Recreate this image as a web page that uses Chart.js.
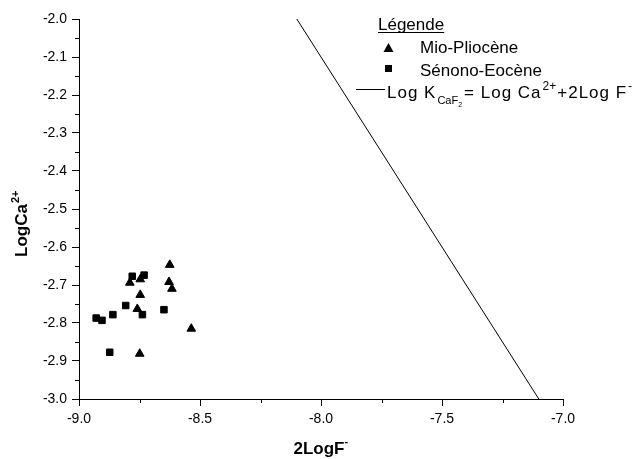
<!DOCTYPE html>
<html>
<head>
<meta charset="utf-8">
<script src="https://cdn.jsdelivr.net/npm/chart.js@4"></script>
<style>
html,body{margin:0;padding:0;background:#fff;}
#c{display:block;}
</style>
</head>
<body>
<canvas id="c" width="642" height="459"></canvas>
<script>
// ---- data ----
const mioX = [-8.625, -8.628, -8.616, -8.790, -8.747, -8.747, -8.759, -8.536, -8.749];
const mioY = [-2.647, -2.692, -2.710, -2.694, -2.685, -2.726, -2.763, -2.815, -2.881];
const senX = [-8.780, -8.731, -8.807, -8.738, -8.649, -8.860, -8.929, -8.905, -8.873];
const senY = [-2.677, -2.674, -2.754, -2.778, -2.765, -2.778, -2.787, -2.793, -2.877];
const lineX = [-8.1, -7.1];
const lineY = [-2.0, -3.0];
const xTickStep = 0.5, yTickStep = 0.1;
const xMinor = [-8.75, -8.25, -7.75, -7.25];
const yMinor = [-2.95, -2.85, -2.75, -2.65, -2.55, -2.45, -2.35, -2.25, -2.15, -2.05];
const seriesNames = ['Mio-Pliocène', 'Sénono-Eocène'];
const legendTitle = 'Légende';

const FF = '"Liberation Sans", Arial, sans-serif';
const pts = (xs, ys) => xs.map((x, i) => ({x, y: ys[i]}));

const overlay = {
  id: 'overlay',
  afterDraw(chart) {
    const ctx = chart.ctx;
    const xs = chart.scales.x, ys = chart.scales.y;
    const ca = chart.chartArea;
    ctx.save();
    ctx.strokeStyle = '#000';
    ctx.fillStyle = '#000';
    ctx.lineWidth = 1;
    // minor ticks
    ctx.beginPath();
    yMinor.forEach(v => {
      const p = Math.round(ys.getPixelForValue(v)) + 0.5;
      ctx.moveTo(ca.left - 4, p); ctx.lineTo(ca.left, p);
    });
    xMinor.forEach(v => {
      const p = Math.round(xs.getPixelForValue(v)) + 0.5;
      ctx.moveTo(p, ca.bottom); ctx.lineTo(p, ca.bottom + 4);
    });
    ctx.stroke();

    // axis titles
    ctx.textBaseline = 'alphabetic';
    ctx.textAlign = 'left';
    ctx.font = 'bold 17px ' + FF;
    const xt = '2LogF';
    const xw = ctx.measureText(xt).width;
    const xStart = (ca.left + ca.right) / 2 - (xw + 4) / 2;
    ctx.fillText(xt, xStart, 454);
    ctx.font = 'bold 11px ' + FF;
    ctx.fillText('-', xStart + xw, 445);

    ctx.save();
    ctx.translate(27, 257);
    ctx.rotate(-Math.PI / 2);
    ctx.font = 'bold 17px ' + FF;
    const yt = 'LogCa';
    const yw = ctx.measureText(yt).width;
    ctx.fillText(yt, 0, 0);
    ctx.font = 'bold 11px ' + FF;
    ctx.fillText('2+', yw + 1, -8);
    ctx.restore();

    // legend
    ctx.font = '17px ' + FF;
    ctx.fillText(legendTitle, 378, 30);
    const lw = ctx.measureText(legendTitle).width;
    ctx.beginPath();
    ctx.moveTo(378, 32.5); ctx.lineTo(378 + lw, 32.5);
    ctx.stroke();

    // triangle symbol
    ctx.beginPath();
    ctx.moveTo(388.5, 43); ctx.lineTo(393.5, 52); ctx.lineTo(383.5, 52); ctx.closePath();
    ctx.fill();
    ctx.fillText(seriesNames[0], 420, 53);
    // square symbol
    ctx.fillRect(385, 65, 7, 7);
    ctx.fillText(seriesNames[1], 420, 76);
    // line symbol
    ctx.beginPath();
    ctx.moveTo(356, 89.5); ctx.lineTo(385, 89.5);
    ctx.stroke();
    const segs = [
      {t: 'Log K', f: 17, dy: 0, ls: 1, gap: 1},
      {t: 'CaF', f: 11, dy: 6, ls: 0, gap: 0},
      {t: '2', f: 7, dy: 9, ls: 0, gap: 2},
      {t: '= Log Ca', f: 17, dy: 0, ls: 1, gap: 1},
      {t: '2+', f: 12, dy: -8, ls: 0, gap: 1},
      {t: '+2Log F', f: 17, dy: 0, ls: 1, gap: 1},
      {t: '-', f: 12, dy: -8, ls: 0, gap: 0}
    ];
    let cx = 387;
    segs.forEach(s => {
      ctx.font = s.f + 'px ' + FF;
      ctx.letterSpacing = s.ls + 'px';
      ctx.fillText(s.t, cx, 98 + s.dy);
      cx += ctx.measureText(s.t).width + s.gap;
    });
    ctx.letterSpacing = '0px';
    ctx.restore();
  }
};

new Chart(document.getElementById('c'), {
  type: 'scatter',
  data: {
    datasets: [
      {
        label: seriesNames[0],
        data: pts(mioX, mioY),
        pointStyle: 'triangle',
        pointRadius: 5,
        borderWidth: 1,
        backgroundColor: '#000',
        borderColor: '#000'
      },
      {
        label: seriesNames[1],
        data: pts(senX, senY),
        pointStyle: 'rect',
        pointRadius: 4.6,
        borderWidth: 1,
        backgroundColor: '#000',
        borderColor: '#000'
      },
      {
        type: 'line',
        label: 'Log K',
        data: pts(lineX, lineY),
        showLine: true,
        borderColor: '#000',
        borderWidth: 1,
        pointRadius: 0,
        fill: false,
        clip: false
      }
    ]
  },
  options: {
    responsive: false,
    animation: false,
    devicePixelRatio: 1,
    layout: {padding: {left: 0, right: 79, top: 19, bottom: 0}},
    plugins: {legend: {display: false}, tooltip: {enabled: false}},
    scales: {
      x: {
        type: 'linear',
        min: -9, max: -7,
        afterFit(s) { s.height = 60; },
        border: {display: true, color: '#000', width: 1},
        grid: {drawOnChartArea: false, drawTicks: true, tickLength: 7, color: '#000'},
        ticks: {
          stepSize: xTickStep, autoSkip: false, maxRotation: 0, padding: 5,
          color: '#000', font: {family: FF, size: 14},
          callback: v => v.toFixed(1)
        }
      },
      y: {
        type: 'linear',
        min: -3, max: -2,
        afterFit(s) { s.width = 79; },
        border: {display: true, color: '#000', width: 1},
        grid: {drawOnChartArea: false, drawTicks: true, tickLength: 7, color: '#000'},
        ticks: {
          stepSize: yTickStep, autoSkip: false, padding: 5,
          color: '#000', font: {family: FF, size: 14},
          callback: v => v.toFixed(1)
        }
      }
    }
  },
  plugins: [overlay]
});
</script>
</body>
</html>
